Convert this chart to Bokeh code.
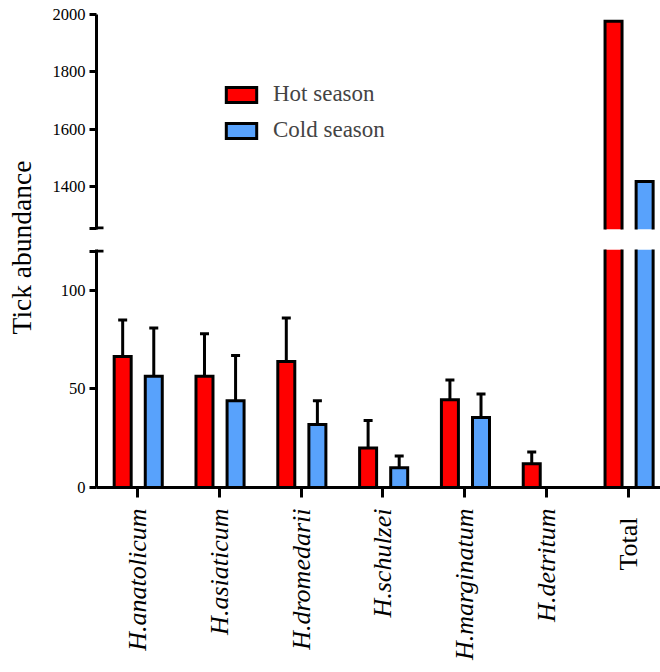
from math import pi, nan
from bokeh.plotting import figure
from bokeh.models import (ColumnDataSource, FixedTicker, Range1d, Label, Legend,
                          LegendItem, LinearAxis)
from bokeh.layouts import row, column
from bokeh.embed import file_html
from bokeh.resources import INLINE

# ---------------- data ----------------
species = ["H.anatolicum", "H.asiaticum", "H.dromedarii", "H.schulzei",
           "H.marginatum", "H.detritum", "Total"]
hot = [66.5, 56.5, 64, 20, 44.5, 12, 1977]
cold = [56.5, 44, 32, 10, 35.5, 0, 1417]
hot_sd = [18.5, 21.5, 22, 14, 10, 6, nan]
cold_sd = [24.5, 23, 12, 6, 12, nan, nan]
lower_ticks = [0, 50, 100]
upper_ticks = [1400, 1600, 1800, 2000]
lower_break = 120
upper_break = 1254
series_names = ["Hot season", "Cold season"]

# ---------------- style ----------------
FONT = "Liberation Serif"
RED = "#FF0000"
BLUE = "#58A2FC"
W0 = 48                      # width of title strip
MAIN_W = 660 - W0
BL = 96 - W0                 # left border of main plots
FRAME_W = MAIN_W - BL
X0, X1 = -0.5, 6.394
PXU = FRAME_W / (X1 - X0)    # px per x-unit
BAR_W = 17 / PXU
OFF_HOT, OFF_COLD = -0.18, 0.20
CAP = 4.5 / PXU
AX_CAP = 7 / PXU
COLORS = [RED, BLUE]
CAT_FS = 26                  # category label font size (px)


def draw(p, lo_lim, hi_lim):
    """Draw the bars/error bars that fall inside the panel (lo_lim, hi_lim]."""
    n = len(species)
    for vals, sds, off, color in ((hot, hot_sd, OFF_HOT, RED),
                                  (cold, cold_sd, OFF_COLD, BLUE)):
        fx, ft = [], []
        xs_l, ys_l = [], []
        ex, ey0, ey1, cx0, cx1 = [], [], [], [], []
        for i in range(n):
            v, s = vals[i], sds[i]
            x = i + off
            if v <= lo_lim:
                continue
            fx.append(x); ft.append(v)
            xl, xr = x - BAR_W / 2, x + BAR_W / 2
            if v <= hi_lim:
                xs_l.append([xl, xl, xr, xr]); ys_l.append([0, v, v, 0])
            else:
                xs_l.append([xl, xl]); ys_l.append([0, v])
                xs_l.append([xr, xr]); ys_l.append([0, v])
            if s == s and v + s <= hi_lim:
                ex.append(x); ey0.append(v); ey1.append(v + s)
                cx0.append(x - CAP); cx1.append(x + CAP)
        err = ColumnDataSource(dict(x=ex, y0=ey0, y1=ey1, cx0=cx0, cx1=cx1))
        p.segment(x0="x", x1="x", y0="y0", y1="y1", source=err,
                  line_color="black", line_width=3)
        p.segment(x0="cx0", x1="cx1", y0="y1", y1="y1", source=err,
                  line_color="black", line_width=3)
        p.vbar(x="x", top="top", bottom=0, width=BAR_W,
               source=ColumnDataSource(dict(x=fx, top=ft)),
               fill_color=color, line_alpha=0)
        p.multi_line(xs="xs", ys="ys", source=ColumnDataSource(dict(xs=xs_l, ys=ys_l)),
                     line_color="black", line_width=3, line_join="miter")


def base_fig(h, yr, top, bottom, **kw):
    p = figure(width=MAIN_W, height=h, x_range=Range1d(X0, X1), y_range=yr,
               output_backend="svg", toolbar_location=None,
               min_border_left=BL, min_border_right=0,
               min_border_top=top, min_border_bottom=bottom, **kw)
    p.outline_line_color = None
    p.grid.visible = False
    p.background_fill_color = "white"
    p.border_fill_color = "white"
    for ax in p.yaxis:
        ax.axis_line_width = 3
        ax.major_tick_line_width = 3
        ax.major_tick_out = 7
        ax.major_tick_in = 0
        ax.minor_tick_line_color = None
        ax.major_label_text_font = FONT
        ax.major_label_text_font_size = "16.5px"
        ax.major_label_text_color = "black"
        ax.major_label_standoff = 4
    return p


# upper plot (above the break)
up_lo, up_hi = 1249, 2000.3
up = base_fig(239, Range1d(up_lo, up_hi), 14, 10)
up.xaxis.visible = False
up.yaxis.ticker = FixedTicker(ticks=[upper_break] + upper_ticks)
up.yaxis.major_label_overrides = {upper_break: ""}
draw(up, up_lo, up_hi)
up.segment(x0=X0, x1=X0 + AX_CAP, y0=upper_break, y1=upper_break,
           line_color="black", line_width=3)
# legend keys: renderers carrying the bar style (their single point is NaN, so not drawn)
keys = [up.vbar(x="x", top="top", width=BAR_W,
                source=ColumnDataSource(dict(x=[nan], top=[nan])),
                fill_color=c, line_color="black", line_width=3, line_join="miter")
        for c in COLORS]
legend = Legend(items=[LegendItem(label=nm, renderers=[k])
                       for nm, k in zip(series_names, keys)],
                location=(126, 86), padding=0, margin=0, spacing=10,
                glyph_width=38, glyph_height=19, label_standoff=13,
                label_text_font=FONT, label_text_font_size="23px",
                border_line_color=None, background_fill_alpha=0)
up.add_layout(legend)

# lower plot (below the break)
lo_lo, lo_hi = 0, 120.8
lo = base_fig(433, Range1d(lo_lo, lo_hi), 10, 185)
lo.yaxis.ticker = FixedTicker(ticks=lower_ticks + [lower_break])
lo.yaxis.major_label_overrides = {lower_break: ""}
draw(lo, 0, lo_hi)
lo.segment(x0=X0, x1=X0 + AX_CAP, y0=lower_break, y1=lower_break,
           line_color="black", line_width=3)

tot = len(species) - 1
overrides = {i: s for i, s in enumerate(species)}
overrides[tot] = ""
xa = lo.xaxis[0]
xa.ticker = FixedTicker(ticks=list(range(len(species))))
xa.major_label_overrides = overrides
xa.major_label_orientation = pi / 2
xa.major_label_text_font = FONT
xa.major_label_text_font_style = "italic"
xa.major_label_text_font_size = f"{CAT_FS}px"
xa.major_label_text_color = "black"
xa.major_label_standoff = 11
xa.axis_line_width = 3
xa.major_tick_line_width = 3
xa.major_tick_out = 10
xa.major_tick_in = 0
xa.minor_tick_line_color = None

# second axis (stacked below the first) only for the upright "Total" label;
# pulled back up to the same place with a negative standoff
first_axis_size = 10 + 11 + 5.86 * CAT_FS
ax2 = LinearAxis(ticker=FixedTicker(ticks=[tot]),
                 major_label_overrides={tot: species[-1]},
                 major_label_orientation=pi / 2,
                 major_label_text_font=FONT, major_label_text_font_size=f"{CAT_FS}px",
                 major_label_text_color="black",
                 major_label_standoff=int(round(28 - first_axis_size)),
                 axis_line_color=None, major_tick_line_color=None,
                 major_tick_out=0, major_tick_in=0, minor_tick_line_color=None)
lo.add_layout(ax2, "below")

# title strip
tp = figure(width=W0, height=672, x_range=Range1d(0, W0), y_range=Range1d(0, 672),
            output_backend="svg", toolbar_location=None,
            min_border=0, min_border_left=0, min_border_right=0,
            min_border_top=0, min_border_bottom=0)
tp.axis.visible = False
tp.grid.visible = False
tp.outline_line_color = None
tp.add_layout(Label(x=21, y=425, text="Tick abundance", angle=pi / 2,
                    text_align="center", text_baseline="middle",
                    text_font=FONT, text_font_size="27.5px", text_color="black"))

layout = row(tp, column(up, lo))
open("out.html", "w").write(file_html(layout, INLINE))
